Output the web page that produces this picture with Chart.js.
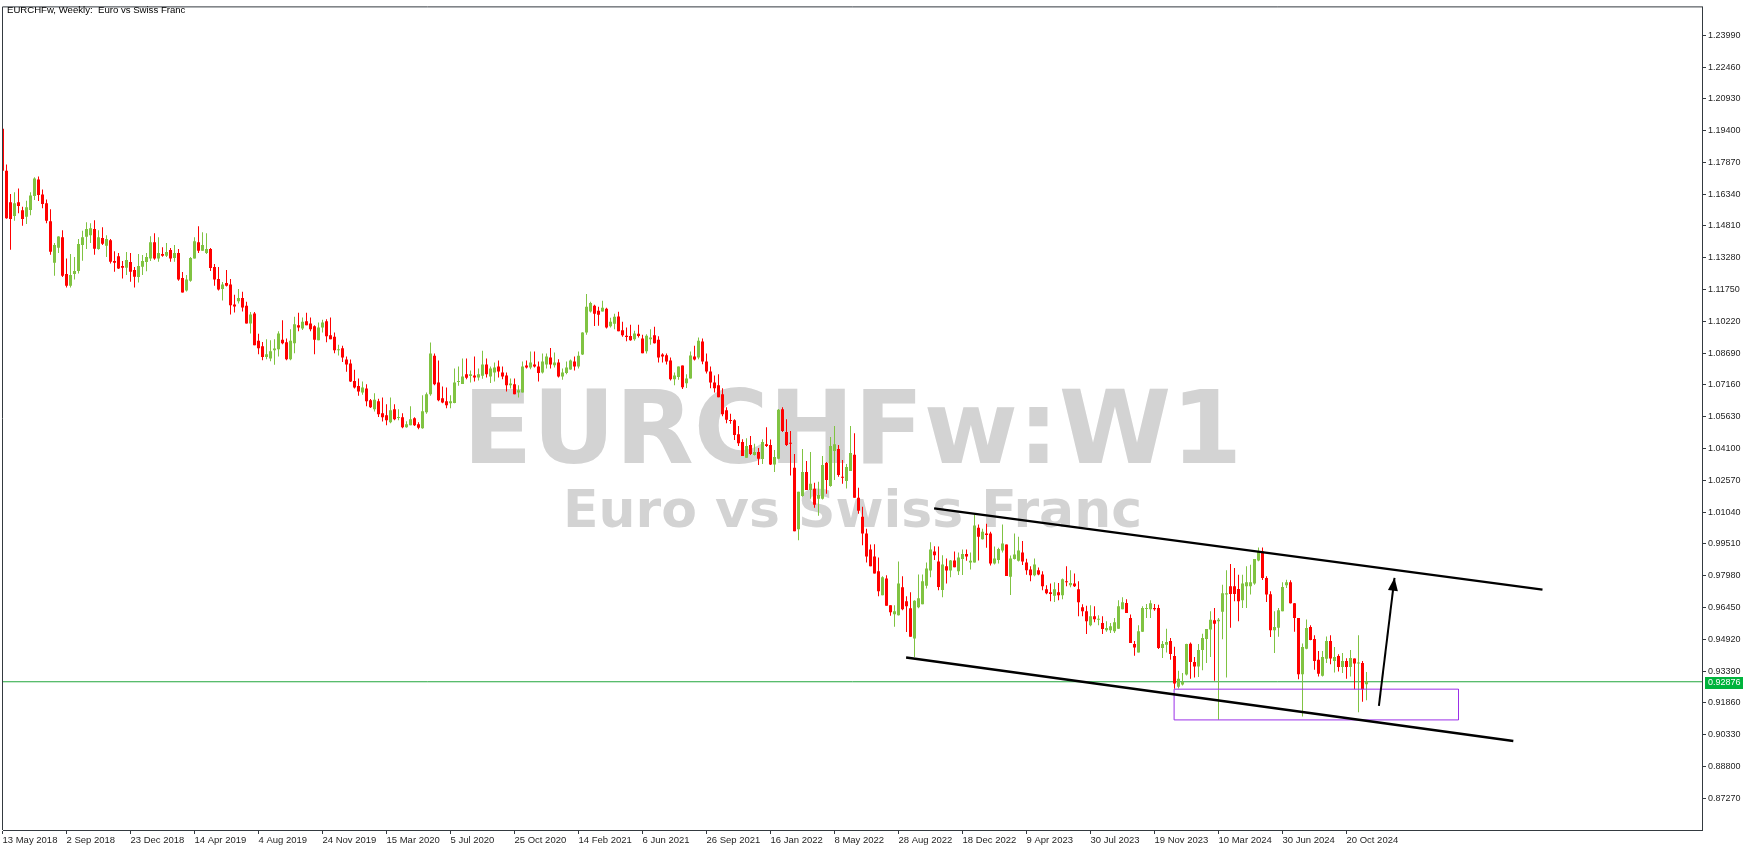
<!DOCTYPE html>
<html>
<head>
<meta charset="utf-8">
<title>EURCHFw, Weekly</title>
<script src="https://cdn.jsdelivr.net/npm/chart.js@4.4.1/dist/chart.umd.min.js"></script>
<style>
    html, body { margin: 0; padding: 0; background: #ffffff; }
    #wrap { width: 1755px; height: 851px; }
</style>
</head>
<body>
<div id="wrap"><canvas id="chart" width="1755" height="851"></canvas></div>
<script>
// ==============================
// DATA (weekly candles, index 0 = week of 13 May 2018)
// ==============================
const opens = [
    1.1949,1.1747,1.1595,1.1529,1.1595,1.1557,1.1525,1.1558,1.1625,1.1705,
    1.1633,1.1590,1.1504,1.1304,1.1376,1.1427,1.1250,1.1193,1.1250,1.1265,
    1.1389,1.1429,1.1437,1.1466,1.1370,1.1423,1.1386,1.1413,1.1312,1.1335,
    1.1288,1.1280,1.1308,1.1269,1.1236,1.1285,1.1308,1.1324,1.1403,1.1324,
    1.1346,1.1338,1.1365,1.1327,1.1351,1.1231,1.1170,1.1217,1.1324,1.1403,
    1.1362,1.1351,1.1370,1.1284,1.1226,1.1178,1.1207,1.1199,1.1103,1.1119,
    1.1135,1.1097,1.1012,1.1060,1.0929,1.0902,1.0850,1.0843,1.0883,1.0888,
    1.0934,1.0921,1.0840,1.0917,1.1003,1.0988,1.1022,1.1012,1.0998,1.0931,
    1.0993,1.1022,1.0955,1.0948,1.0883,1.0893,1.0838,1.0819,1.0735,1.0711,
    1.0680,1.0699,1.0642,1.0599,1.0637,1.0580,1.0570,1.0537,1.0599,1.0557,
    1.0561,1.0513,1.0522,1.0556,1.0527,1.0508,1.0585,1.0671,1.0857,1.0728,
    1.0652,1.0637,1.0628,1.0629,1.0730,1.0720,1.0767,1.0759,1.0762,1.0752,
    1.0760,1.0814,1.0757,1.0776,1.0805,1.0776,1.0762,1.0714,1.0719,1.0680,
    1.0680,1.0810,1.0800,1.0814,1.0805,1.0776,1.0814,1.0848,1.0811,1.0824,
    1.0757,1.0773,1.0790,1.0829,1.0805,1.0862,1.0968,1.1070,1.1097,1.1073,
    1.1070,1.1083,1.0998,1.1011,1.1046,1.0979,1.0953,1.0952,1.0936,1.0963,
    1.0939,1.0878,1.0936,1.0955,1.0934,1.0862,1.0859,1.0834,1.0744,1.0754,
    1.0810,1.0724,1.0747,1.0853,1.0848,1.0925,1.0829,1.0781,1.0728,1.0714,
    1.0671,1.0594,1.0546,1.0546,1.0479,1.0441,1.0366,1.0427,1.0379,1.0393,
    1.0360,1.0431,1.0427,1.0333,1.0361,1.0599,1.0489,1.0436,1.0317,1.0021,
    1.0182,1.0297,1.0211,1.0216,1.0168,1.0168,1.0341,1.0230,1.0398,1.0408,
    1.0274,1.0254,1.0302,1.0380,1.0173,1.0082,1.0001,0.9924,0.9890,0.9819,
    0.9704,0.9785,0.9656,0.9613,0.9608,0.9742,0.9675,0.9641,0.9496,0.9646,
    0.9661,0.9750,0.9823,0.9914,0.9866,0.9729,0.9843,0.9823,0.9871,0.9820,
    0.9878,0.9902,0.9862,0.9862,1.0029,0.9973,1.0001,1.0001,0.9857,0.9873,
    0.9919,0.9948,0.9793,0.9879,0.9870,0.9910,0.9862,0.9828,0.9800,0.9824,
    0.9804,0.9733,0.9718,0.9701,0.9718,0.9704,0.9771,0.9752,0.9761,0.9733,
    0.9646,0.9627,0.9560,0.9603,0.9586,0.9570,0.9536,0.9536,0.9531,0.9543,
    0.9637,0.9667,0.9594,0.9469,0.9428,0.9528,0.9638,0.9637,0.9642,0.9642,
    0.9450,0.9466,0.9484,0.9412,0.9263,0.9275,0.9322,0.9471,0.9383,0.9361,
    0.9440,0.9493,0.9539,0.9584,0.9579,0.9624,0.9707,0.9747,0.9747,0.9734,
    0.9680,0.9747,0.9747,0.9761,0.9871,0.9915,0.9787,0.9709,0.9536,0.9547,
    0.9627,0.9752,0.9766,0.9666,0.9595,0.9324,0.9447,0.9551,0.9493,0.9393,
    0.9316,0.9398,0.9484,0.9388,0.9412,0.9359,0.9388,0.9359,0.9399,0.9375,
    0.9378,0.9276
];
const highs = [
    1.1949,1.1777,1.1635,1.1643,1.1662,1.1574,1.1603,1.1643,1.1715,1.1719,
    1.1657,1.1609,1.1561,1.1399,1.1432,1.1461,1.1325,1.1346,1.1332,1.1419,
    1.1458,1.1499,1.1494,1.1509,1.1461,1.1475,1.1437,1.1418,1.1360,1.1351,
    1.1312,1.1356,1.1351,1.1284,1.1346,1.1341,1.1351,1.1432,1.1446,1.1427,
    1.1379,1.1399,1.1375,1.1389,1.1370,1.1260,1.1245,1.1332,1.1427,1.1480,
    1.1451,1.1446,1.1375,1.1298,1.1284,1.1212,1.1269,1.1226,1.1150,1.1178,
    1.1164,1.1116,1.1067,1.1067,1.0963,1.0923,1.0936,1.0931,1.0936,1.0974,
    1.1027,1.0940,1.0984,1.1044,1.1064,1.1041,1.1064,1.1041,1.1003,1.1017,
    1.1030,1.1032,1.1041,1.0969,1.0910,1.0905,1.0853,1.0838,1.0789,1.0747,
    1.0733,1.0719,1.0648,1.0676,1.0650,1.0656,1.0623,1.0656,1.0623,1.0599,
    1.0580,1.0541,1.0613,1.0561,1.0537,1.0666,1.0680,1.0920,1.0867,1.0834,
    1.0709,1.0704,1.0666,1.0795,1.0805,1.0843,1.0843,1.0786,1.0853,1.0795,
    1.0881,1.0843,1.0805,1.0824,1.0834,1.0805,1.0776,1.0747,1.0747,1.0714,
    1.0829,1.0834,1.0877,1.0877,1.0829,1.0867,1.0867,1.0894,1.0872,1.0840,
    1.0795,1.0829,1.0838,1.0853,1.0877,1.0970,1.1154,1.1116,1.1102,1.1092,
    1.1121,1.1087,1.1039,1.1059,1.1068,1.1020,1.0992,1.1006,1.0977,1.1006,
    1.0958,1.0960,1.0984,1.0996,1.0950,1.0869,1.0867,1.0848,1.0776,1.0805,
    1.0810,1.0768,1.0877,1.0905,1.0944,1.0939,1.0867,1.0805,1.0762,1.0767,
    1.0700,1.0609,1.0577,1.0551,1.0518,1.0455,1.0460,1.0470,1.0433,1.0412,
    1.0455,1.0513,1.0454,1.0403,1.0600,1.0609,1.0551,1.0494,1.0384,1.0202,
    1.0408,1.0350,1.0393,1.0245,1.0250,1.0374,1.0345,1.0465,1.0518,1.0427,
    1.0355,1.0336,1.0518,1.0484,1.0221,1.0130,1.0024,0.9948,0.9949,0.9886,
    0.9795,0.9800,0.9656,0.9656,0.9866,0.9795,0.9699,0.9718,0.9680,0.9804,
    0.9804,0.9862,0.9959,0.9940,0.9938,0.9897,0.9881,0.9873,0.9914,0.9910,
    0.9924,0.9924,0.9910,1.0093,1.0044,1.0024,1.0048,1.0010,0.9938,0.9933,
    1.0044,0.9948,0.9895,1.0001,0.9986,0.9965,0.9880,0.9843,0.9881,0.9838,
    0.9819,0.9752,0.9761,0.9766,0.9763,0.9784,0.9843,0.9824,0.9809,0.9771,
    0.9661,0.9653,0.9656,0.9651,0.9608,0.9603,0.9579,0.9570,0.9594,0.9680,
    0.9694,0.9685,0.9611,0.9484,0.9560,0.9651,0.9662,0.9680,0.9662,0.9658,
    0.9484,0.9543,0.9498,0.9456,0.9340,0.9330,0.9471,0.9476,0.9407,0.9469,
    0.9519,0.9541,0.9627,0.9643,0.9595,0.9755,0.9824,0.9854,0.9835,0.9803,
    0.9803,0.9843,0.9851,0.9878,0.9934,0.9934,0.9795,0.9723,0.9627,0.9643,
    0.9766,0.9779,0.9776,0.9667,0.9595,0.9472,0.9587,0.9560,0.9511,0.9436,
    0.9436,0.9506,0.9511,0.9455,0.9420,0.9426,0.9401,0.9440,0.9399,0.9512,
    0.9388,0.9335
];
const lows = [
    1.1742,1.1516,1.1367,1.1506,1.1542,1.1482,1.1491,1.1533,1.1606,1.1601,
    1.1566,1.1494,1.1343,1.1242,1.1351,1.1236,1.1185,1.1185,1.1223,1.1252,
    1.1314,1.1370,1.1399,1.1343,1.1367,1.1389,1.1332,1.1300,1.1261,1.1274,
    1.1228,1.1245,1.1213,1.1185,1.1209,1.1245,1.1263,1.1312,1.1319,1.1309,
    1.1333,1.1332,1.1309,1.1309,1.1217,1.1161,1.1166,1.1213,1.1324,1.1351,
    1.1362,1.1346,1.1265,1.1194,1.1170,1.1122,1.1190,1.1055,1.1065,1.1108,
    1.1070,1.1012,1.0964,1.0907,1.0864,1.0835,1.0840,1.0830,1.0813,1.0853,
    1.0912,1.0835,1.0835,1.0869,1.0974,1.0980,1.1003,1.0974,1.0864,1.0931,
    1.0968,1.0921,1.0936,1.0869,1.0858,1.0826,1.0779,1.0730,1.0699,1.0664,
    1.0669,1.0613,1.0605,1.0588,1.0562,1.0540,1.0522,1.0532,1.0546,1.0546,
    1.0508,1.0510,1.0522,1.0518,1.0503,1.0505,1.0577,1.0664,1.0714,1.0637,
    1.0628,1.0604,1.0604,1.0628,1.0712,1.0720,1.0743,1.0728,1.0733,1.0738,
    1.0746,1.0752,1.0725,1.0733,1.0752,1.0743,1.0685,1.0699,1.0671,1.0656,
    1.0680,1.0795,1.0792,1.0800,1.0733,1.0771,1.0795,1.0795,1.0800,1.0752,
    1.0741,1.0768,1.0789,1.0786,1.0795,1.0860,1.0958,1.1065,1.1000,1.1001,
    1.1070,1.0988,1.0993,1.0984,1.0974,1.0948,1.0926,1.0929,1.0929,1.0944,
    1.0869,1.0867,1.0909,1.0915,1.0824,1.0824,1.0814,1.0738,1.0714,1.0741,
    1.0696,1.0701,1.0747,1.0834,1.0840,1.0816,1.0771,1.0700,1.0680,1.0657,
    1.0565,1.0532,1.0529,1.0451,1.0422,1.0374,1.0366,1.0379,1.0376,1.0331,
    1.0336,1.0417,1.0331,1.0297,1.0359,1.0489,1.0422,1.0280,1.0012,0.9969,
    1.0178,1.0211,1.0168,1.0125,1.0087,1.0165,1.0192,1.0226,1.0259,1.0274,
    1.0240,1.0218,1.0302,1.0173,1.0096,0.9945,0.9862,0.9843,0.9809,0.9699,
    0.9704,0.9653,0.9605,0.9552,0.9606,0.9632,0.9527,0.9504,0.9407,0.9641,
    0.9661,0.9737,0.9791,0.9874,0.9728,0.9694,0.9761,0.9790,0.9839,0.9801,
    0.9801,0.9870,0.9828,0.9862,0.9871,0.9972,0.9933,0.9847,0.9852,0.9857,
    0.9910,0.9796,0.9705,0.9876,0.9866,0.9850,0.9803,0.9771,0.9795,0.9800,
    0.9728,0.9709,0.9675,0.9672,0.9680,0.9685,0.9747,0.9742,0.9744,0.9603,
    0.9603,0.9517,0.9555,0.9574,0.9560,0.9517,0.9528,0.9522,0.9522,0.9541,
    0.9637,0.9618,0.9474,0.9413,0.9428,0.9527,0.9595,0.9594,0.9629,0.9445,
    0.9402,0.9428,0.9393,0.9254,0.9255,0.9270,0.9318,0.9302,0.9308,0.9311,
    0.9343,0.9378,0.9407,0.9292,0.9105,0.9492,0.9308,0.9547,0.9675,0.9579,
    0.9643,0.9643,0.9707,0.9755,0.9867,0.9777,0.9672,0.9503,0.9426,0.9504,
    0.9627,0.9739,0.9664,0.9528,0.9300,0.9120,0.9444,0.9487,0.9346,0.9313,
    0.9313,0.9378,0.9372,0.9332,0.9337,0.9330,0.9302,0.9313,0.9252,0.9141,
    0.9192,0.9199
];
const closes = [
    1.1747,1.1518,1.1515,1.1590,1.1577,1.1515,1.1571,1.1628,1.1710,1.1630,
    1.1587,1.1506,1.1357,1.1389,1.1430,1.1241,1.1193,1.1245,1.1265,1.1394,
    1.1427,1.1466,1.1470,1.1371,1.1427,1.1395,1.1418,1.1309,1.1304,1.1276,
    1.1280,1.1317,1.1261,1.1237,1.1288,1.1312,1.1332,1.1403,1.1324,1.1351,
    1.1338,1.1356,1.1324,1.1351,1.1223,1.1161,1.1223,1.1327,1.1408,1.1362,
    1.1389,1.1370,1.1279,1.1223,1.1175,1.1199,1.1193,1.1099,1.1094,1.1135,
    1.1089,1.1012,1.1055,1.0907,1.0893,1.0850,1.0864,1.0878,1.0891,1.0964,
    1.0917,1.0840,1.0929,1.1008,1.0993,1.1020,1.1003,1.0984,1.0934,1.0993,
    1.1017,1.0950,1.0936,1.0883,1.0886,1.0848,1.0814,1.0733,1.0704,1.0685,
    1.0704,1.0637,1.0609,1.0645,1.0575,1.0561,1.0546,1.0594,1.0551,1.0561,
    1.0513,1.0527,1.0551,1.0522,1.0510,1.0589,1.0671,1.0867,1.0719,1.0642,
    1.0632,1.0618,1.0637,1.0728,1.0733,1.0757,1.0751,1.0767,1.0752,1.0767,
    1.0814,1.0767,1.0795,1.0800,1.0781,1.0757,1.0714,1.0723,1.0671,1.0690,
    1.0805,1.0800,1.0824,1.0805,1.0773,1.0829,1.0853,1.0814,1.0824,1.0757,
    1.0776,1.0800,1.0834,1.0805,1.0857,1.0968,1.1092,1.1111,1.1059,1.1054,
    1.1087,1.0993,1.1020,1.1044,1.0974,1.0955,1.0947,1.0931,1.0964,1.0952,
    1.0869,1.0953,1.0944,1.0917,1.0848,1.0853,1.0829,1.0744,1.0762,1.0805,
    1.0705,1.0747,1.0858,1.0839,1.0929,1.0829,1.0781,1.0728,1.0700,1.0657,
    1.0575,1.0548,1.0542,1.0475,1.0436,1.0374,1.0422,1.0384,1.0393,1.0361,
    1.0441,1.0422,1.0333,1.0369,1.0597,1.0494,1.0427,1.0433,1.0012,1.0202,
    1.0297,1.0211,1.0240,1.0139,1.0187,1.0331,1.0259,1.0422,1.0431,1.0283,
    1.0270,1.0321,1.0388,1.0173,1.0111,1.0001,0.9890,0.9843,0.9809,0.9723,
    0.9790,0.9653,0.9622,0.9627,0.9761,0.9637,0.9651,0.9504,0.9677,0.9689,
    0.9771,0.9833,0.9924,0.9897,0.9744,0.9852,0.9823,0.9871,0.9839,0.9886,
    0.9903,0.9890,0.9870,1.0040,0.9986,1.0010,0.9994,0.9857,0.9881,0.9926,
    0.9953,0.9796,0.9881,0.9900,0.9919,0.9866,0.9824,0.9800,0.9852,0.9804,
    0.9747,0.9713,0.9710,0.9733,0.9704,0.9781,0.9766,0.9763,0.9747,0.9670,
    0.9627,0.9579,0.9603,0.9589,0.9589,0.9541,0.9546,0.9555,0.9574,0.9651,
    0.9670,0.9618,0.9474,0.9452,0.9531,0.9642,0.9643,0.9666,0.9637,0.9450,
    0.9469,0.9479,0.9421,0.9279,0.9302,0.9287,0.9469,0.9383,0.9361,0.9440,
    0.9498,0.9541,0.9586,0.9567,0.9586,0.9713,0.9713,0.9710,0.9710,0.9675,
    0.9761,0.9766,0.9766,0.9878,0.9915,0.9787,0.9707,0.9536,0.9551,0.9632,
    0.9744,0.9766,0.9666,0.9595,0.9324,0.9455,0.9546,0.9488,0.9388,0.9326,
    0.9407,0.9484,0.9399,0.9407,0.9359,0.9388,0.9359,0.9402,0.9375,0.9380,
    0.9252,0.9288
];

// time axis: one label every 16 weeks
const xTickLabels = [
    "13 May 2018","2 Sep 2018","23 Dec 2018","14 Apr 2019","4 Aug 2019","24 Nov 2019",
    "15 Mar 2020","5 Jul 2020","25 Oct 2020","14 Feb 2021","6 Jun 2021","26 Sep 2021",
    "16 Jan 2022","8 May 2022","28 Aug 2022","18 Dec 2022","9 Apr 2023","30 Jul 2023",
    "19 Nov 2023","10 Mar 2024","30 Jun 2024","20 Oct 2024"
];
const weeksPerTick = 16;

const yTickLabels = [
    "1.23990","1.22460","1.20930","1.19400","1.17870","1.16340","1.14810","1.13280",
    "1.11750","1.10220","1.08690","1.07160","1.05630","1.04100","1.02570","1.01040",
    "0.99510","0.97980","0.96450","0.94920","0.93390","0.91860","0.90330","0.88800","0.87270"
];

const lastPrice = 0.92876;

// drawings, as [week index, price]
const upperTrend = [[232.9, 1.0122], [385.0, 0.9731]];
const lowerTrend = [[225.9, 0.9404], [377.7, 0.9003]];
const supportBox = [[292.9, 0.9252], [364.0, 0.9104]];
const arrowPath  = [[344.1, 0.9172], [348.0, 0.9788]];

const headerText = "EURCHFw, Weekly:  Euro vs Swiss Franc";
const watermarkTitle = "EURCHFw:W1";
const watermarkSubtitle = "Euro vs Swiss Franc";

// ==============================
// STYLE
// ==============================
const UP = "#80c342";
const DOWN = "#ff0000";
const FRAME = "#343a40";
const TEXT = "#1e1e1e";

const candleColors = closes.map((c, i) => c >= opens[i] ? UP : DOWN);
const toPts = arr => arr.map(([x, y]) => ({ x, y }));

const boxPts = toPts([
    [supportBox[0][0], supportBox[0][1]],
    [supportBox[1][0], supportBox[0][1]],
    [supportBox[1][0], supportBox[1][1]],
    [supportBox[0][0], supportBox[1][1]],
    [supportBox[0][0], supportBox[0][1]]
]);

function lineSet(data, color, width){
    return {
        type: "line", data, borderColor: color, borderWidth: width,
        pointRadius: 0, tension: 0, fill: false, clip: 0
    };
}

// ==============================
// PLUGINS
// ==============================
const mtDecor = {
    id: "mtDecor",
    beforeDatasetsDraw(chart){
        const { ctx, chartArea: a } = chart;
        const cx = (a.left + a.right) / 2;
        ctx.save();
        ctx.fillStyle = "#d3d3d3";
        ctx.textAlign = "center";
        ctx.textBaseline = "alphabetic";
        ctx.font = "bold 102px 'DejaVu Sans'";
        ctx.fillText(watermarkTitle, cx, a.top + 456);
        ctx.font = "bold 52px 'DejaVu Sans'";
        ctx.fillText(watermarkSubtitle, cx, a.top + 520);
        ctx.restore();
    },
    afterDatasetsDraw(chart){
        // arrow head
        const { ctx, scales: { x, y } } = chart;
        const x0 = x.getPixelForValue(arrowPath[0][0]), y0 = y.getPixelForValue(arrowPath[0][1]);
        const x1 = x.getPixelForValue(arrowPath[1][0]), y1 = y.getPixelForValue(arrowPath[1][1]);
        const ang = Math.atan2(y1 - y0, x1 - x0);
        const len = 13, half = 5;
        ctx.save();
        ctx.fillStyle = "#000";
        ctx.beginPath();
        ctx.moveTo(x1, y1);
        ctx.lineTo(x1 - len * Math.cos(ang) + half * Math.sin(ang), y1 - len * Math.sin(ang) - half * Math.cos(ang));
        ctx.lineTo(x1 - len * Math.cos(ang) - half * Math.sin(ang), y1 - len * Math.sin(ang) + half * Math.cos(ang));
        ctx.closePath();
        ctx.fill();
        ctx.restore();
    },
    afterDraw(chart){
        const { ctx, chartArea: a, scales: { y } } = chart;
        ctx.save();
        // frame: top and left (right/bottom are the axis borders)
        ctx.strokeStyle = FRAME;
        ctx.lineWidth = 1;
        ctx.beginPath();
        ctx.moveTo(a.left - 0.5, a.bottom);
        ctx.lineTo(a.left - 0.5, a.top - 0.5);
        ctx.lineTo(a.right + 1, a.top - 0.5);
        ctx.stroke();

        // header
        ctx.fillStyle = "#000";
        ctx.font = "9.6px 'Liberation Sans'";
        ctx.textAlign = "left";
        ctx.textBaseline = "alphabetic";
        ctx.fillText(headerText, 7, 13);

        // last price tag
        const py = Math.round(y.getPixelForValue(lastPrice));
        ctx.fillStyle = "#00b33c";
        ctx.fillRect(a.right + 3, py - 5, 38, 12);
        ctx.fillStyle = "#ffffff";
        ctx.font = "9px 'Liberation Sans'";
        ctx.textBaseline = "middle";
        ctx.fillText(lastPrice.toFixed(5), a.right + 6, py + 1);
        ctx.restore();
    }
};

// ==============================
// CHART
// ==============================
const ctx = document.getElementById("chart").getContext("2d");

const chart = new Chart(ctx, {
    type: "bar",
    data: {
        datasets: [
            lineSet(toPts(upperTrend), "#000000", 2.5),
            lineSet(toPts(lowerTrend), "#000000", 2.5),
            lineSet(toPts(arrowPath), "#000000", 2),
            lineSet(boxPts, "#9b30e8", 1),
            {
                type: "bar",
                data: opens.map((o, i) => ({ x: i, y: [o, closes[i]] })),
                backgroundColor: candleColors,
                borderWidth: 0,
                barThickness: 3,
                maxBarThickness: 3,
                minBarLength: 1,
                grouped: false,
                inflateAmount: 0,
                clip: 0
            },
            {
                type: "bar",
                data: highs.map((h, i) => ({ x: i, y: [lows[i], h] })),
                backgroundColor: candleColors,
                borderWidth: 0,
                barThickness: 1,
                maxBarThickness: 1,
                grouped: false,
                inflateAmount: 0,
                clip: 0
            },
            lineSet([{ x: -2, y: lastPrice }, { x: 430, y: lastPrice }], "#22a63c", 1)
        ]
    },
    options: {
        responsive: false,
        devicePixelRatio: 1,
        animation: false,
        events: [],
        layout: { padding: { left: 3, top: 3, right: 0, bottom: 0 } },
        plugins: {
            legend: { display: false },
            tooltip: { enabled: false }
        },
        scales: {
            x: {
                type: "linear",
                offset: false,
                min: 0.125,
                max: 424.875,
                afterFit: s => { s.height = 21; },
                afterBuildTicks: s => {
                    s.ticks = xTickLabels.map((_, k) => ({ value: k * weeksPerTick }));
                },
                ticks: {
                    autoSkip: false,
                    maxRotation: 0,
                    align: "start",
                    padding: 1,
                    color: TEXT,
                    font: { family: "'Liberation Sans'", size: 9.5 },
                    callback: (v, i) => xTickLabels[i]
                },
                grid: { offset: false, drawOnChartArea: false, drawTicks: true, tickLength: 4, color: FRAME },
                border: { color: FRAME, width: 1 }
            },
            y: {
                position: "right",
                min: 0.85742,
                max: 1.25330,
                afterFit: s => { s.width = 53; },
                afterBuildTicks: s => {
                    s.ticks = yTickLabels.map(t => ({ value: parseFloat(t) }));
                },
                ticks: {
                    autoSkip: false,
                    padding: 2,
                    color: TEXT,
                    font: { family: "'Liberation Sans'", size: 9 },
                    callback: v => v.toFixed(5)
                },
                grid: { drawOnChartArea: false, drawTicks: true, tickLength: 4, color: FRAME },
                border: { color: FRAME, width: 1 }
            }
        }
    },
    plugins: [mtDecor]
});
</script>
</body>
</html>
